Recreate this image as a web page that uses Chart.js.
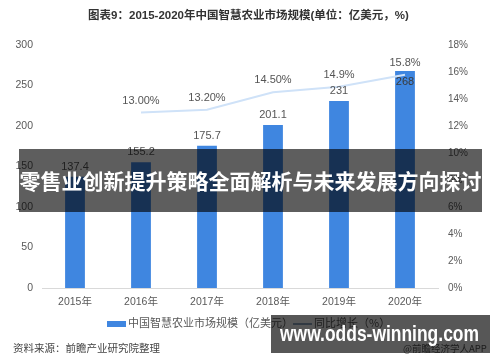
<!DOCTYPE html>
<html><head><meta charset="utf-8">
<script src="https://cdn.jsdelivr.net/npm/chart.js@4/dist/chart.umd.min.js"></script>
<style>
html,body{margin:0;padding:0;background:#fff;}
#wrap{position:relative;width:500px;height:362px;overflow:hidden;font-family:"Liberation Sans","Noto Sans CJK SC",sans-serif;}
canvas{position:absolute;left:0;top:0;}
.t{position:absolute;white-space:nowrap;}
</style></head><body>
<div id="wrap">
<canvas id="c" width="500" height="362"></canvas>
<div class="t" style="left:0;width:497px;top:6px;text-align:center;font-size:11.5px;font-weight:bold;color:#333;font-family:'Liberation Sans','Noto Sans CJK SC';">图表9：2015-2020年中国智慧农业市场规模(单位：亿美元，%)</div>
<div class="t" style="left:107px;top:314px;font-size:11px;color:#595959;font-family:'Noto Sans CJK SC';"><span style="display:inline-block;width:19px;height:6px;background:#3f86e0;vertical-align:middle;margin-right:2px;"></span>中国智慧农业市场规模（亿美元）</div>
<div class="t" style="left:293px;top:314px;font-size:11px;color:#595959;font-family:'Noto Sans CJK SC';"><span style="display:inline-block;width:19px;height:2px;background:#8fa6c0;vertical-align:middle;margin-right:2px;"></span>同比增长（%）</div>
<div class="t" style="left:13px;top:340px;font-size:10.5px;color:#444;font-family:'Noto Sans CJK SC';">资料来源：前瞻产业研究院整理</div>
<div class="t" style="left:403px;top:341px;font-size:9.5px;color:#555;font-family:'Noto Sans CJK SC';">@前瞻经济学人APP</div>
<div class="t" style="left:19px;top:149px;width:463px;height:63px;background:rgba(0,0,0,0.63);"></div>
<div class="t" style="left:19px;top:149px;width:463px;height:63px;line-height:63px;text-align:center;color:#fff;font-size:21px;font-weight:bold;font-family:'Noto Sans CJK SC';">零售业创新提升策略全面解析与未来发展方向探讨</div>
<div class="t" style="left:271px;top:315px;width:219px;height:38px;background:rgba(0,0,0,0.66);"></div>
<div class="t" id="wm" style="left:280px;top:315px;height:38px;line-height:38px;color:#fff;font-size:22px;font-weight:bold;font-family:'Liberation Sans';transform-origin:0 50%;">www.odds-winning.com</div>
</div>
<script>
const categories = ['2015年','2016年','2017年','2018年','2019年','2020年'];
const marketSize = [137.4, 155.2, 175.7, 201.1, 231, 268];
const growth = [null, 13.00, 13.20, 14.50, 14.9, 15.8];
const growthLabels = ['', '13.00%', '13.20%', '14.50%', '14.9%', '15.8%'];
const leftTicks = [0, 50, 100, 150, 200, 250, 300];
const rightTicks = [0, 2, 4, 6, 8, 10, 12, 14, 16, 18];

(function(){
  const wm = document.getElementById('wm');
  const w = wm.getBoundingClientRect().width;
  wm.style.transform = 'scaleX(' + (199 / w) + ')';
})();

const labelPlugin = {
  id: 'labels',
  afterDatasetsDraw(chart) {
    const ctx = chart.ctx;
    const bars = chart.getDatasetMeta(0).data;
    const pts = chart.getDatasetMeta(1).data;
    ctx.save();
    ctx.font = '11px "Liberation Sans", sans-serif';
    ctx.textAlign = 'center';
    ctx.textBaseline = 'middle';
    bars.forEach((b, i) => {
      const p = pts[i];
      const inside = growth[i] != null && b.y < p.y + 8;
      ctx.fillStyle = inside ? '#3a3a3a' : '#555';
      ctx.fillText(String(marketSize[i]), b.x, inside ? b.y + 11 : b.y - 10);
    });
    pts.forEach((p, i) => {
      if (growth[i] == null) return;
      ctx.fillStyle = '#555';
      ctx.fillText(growthLabels[i], p.x, p.y - 12);
    });
    ctx.restore();
  }
};

new Chart(document.getElementById('c'), {
  data: {
    labels: categories,
    datasets: [
      { type: 'bar', data: marketSize, backgroundColor: '#3f86e0', yAxisID: 'y', barPercentage: 0.3, categoryPercentage: 1, order: 2 },
      { type: 'line', data: growth, borderColor: '#cfe2f8', borderWidth: 2, pointRadius: 0, tension: 0, yAxisID: 'y1', order: 1, spanGaps: false }
    ]
  },
  options: {
    responsive: false,
    animation: false,
    layout: { padding: { top: 45, bottom: 50, left: 0, right: 0 } },
    plugins: { legend: { display: false }, tooltip: { enabled: false } },
    scales: {
      x: {
        grid: { display: false, drawTicks: false },
        border: { color: '#d9d9d9', width: 1 },
        ticks: { color: '#595959', font: { size: 10.5, family: '"Liberation Sans","Noto Sans CJK SC"' }, padding: 8 },
        afterFit(s) { s.height = 24; }
      },
      y: {
        position: 'left', min: 0, max: 300,
        afterBuildTicks(s) { s.ticks = leftTicks.map(v => ({ value: v })); },
        grid: { display: false, drawTicks: false },
        border: { display: false },
        ticks: { color: '#595959', font: { size: 10.5, family: '"Liberation Sans"' }, padding: 9 },
        afterFit(s) { s.width = 42; }
      },
      y1: {
        position: 'right', min: 0, max: 18,
        afterBuildTicks(s) { s.ticks = rightTicks.map(v => ({ value: v })); },
        grid: { display: false, drawTicks: false },
        border: { display: false },
        ticks: { color: '#595959', font: { size: 10, family: '"Liberation Sans"' }, padding: 10, callback: v => v + '%' },
        afterFit(s) { s.width = 62; }
      }
    }
  },
  plugins: [labelPlugin]
});
</script>
</body></html>
